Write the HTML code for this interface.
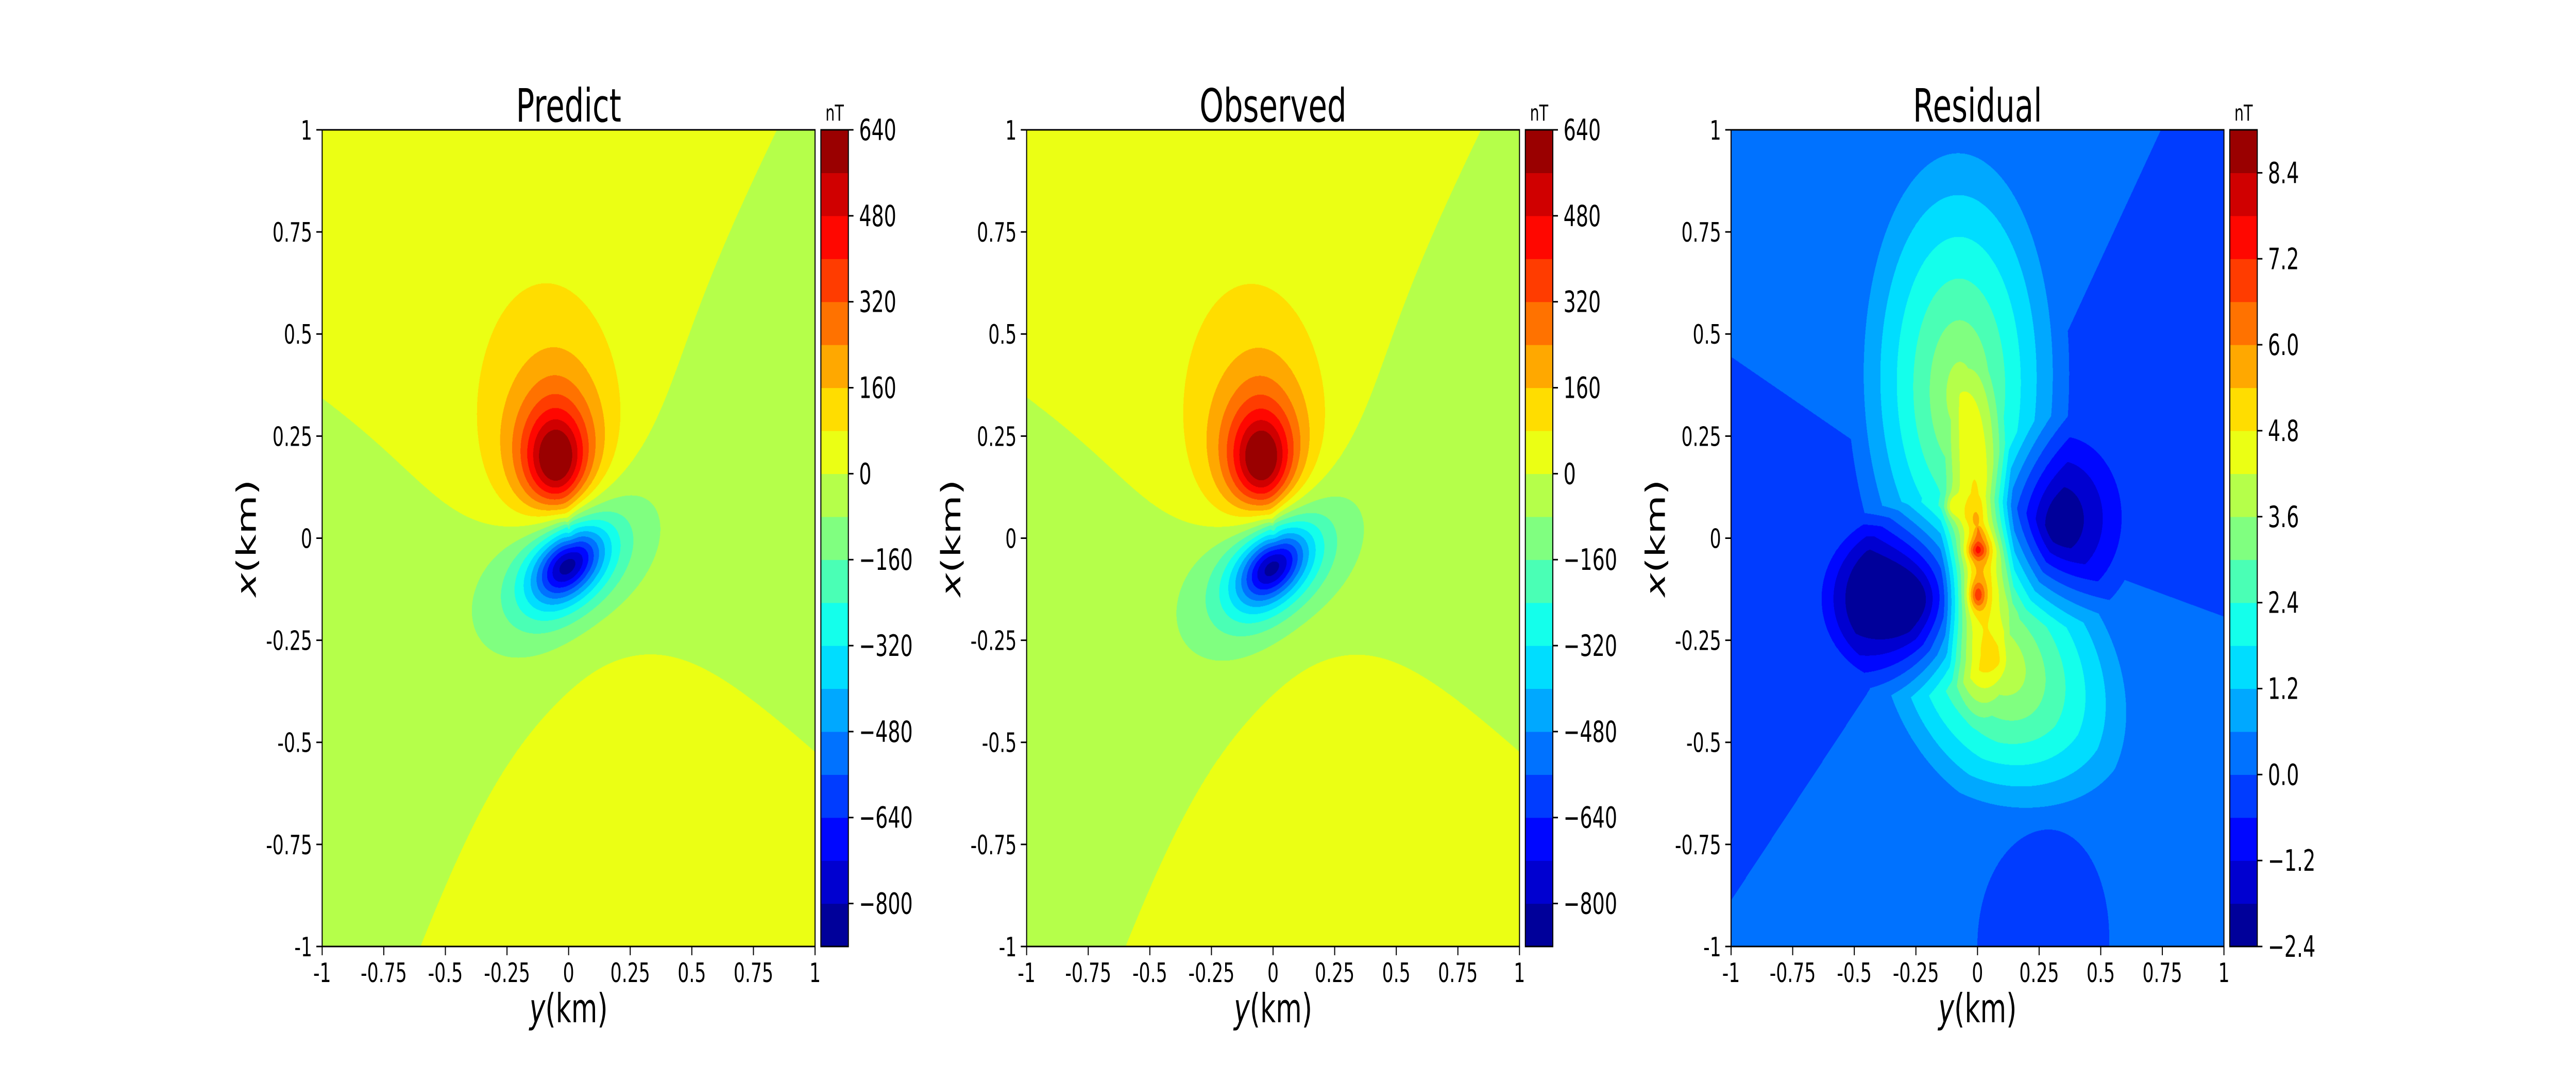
<!DOCTYPE html>
<html><head><meta charset="utf-8">
<style>
html,body{margin:0;padding:0;background:#fff;overflow:hidden;}
#wrap{position:absolute;left:0;top:0;width:7500px;height:2100px;transform-origin:0 0;background:#fff;font-family:"DejaVu Sans","Liberation Sans",sans-serif;}
canvas{position:absolute;}
svg{position:absolute;left:0;top:0;}
</style></head>
<body>
<div id="wrap">
<canvas id="c0" width="1435" height="1585" style="left:938px;top:252px;width:1435px;height:1585px"></canvas>
<canvas id="c1" width="1435" height="1585" style="left:2989px;top:252px;width:1435px;height:1585px"></canvas>
<canvas id="c2" width="1435" height="1585" style="left:5040px;top:252px;width:1435px;height:1585px"></canvas>
<svg id="ov" width="7500" height="2100" viewBox="0 0 7500 2100"></svg>
</div>
<script>
// ---- data ----
const panelTitles = ["Predict", "Observed", "Residual"];
const axisTicks = [-1, -0.75, -0.5, -0.25, 0, 0.25, 0.5, 0.75, 1];
const axisTickLabels = ["-1", "-0.75", "-0.5", "-0.25", "0", "0.25", "0.5", "0.75", "1"];
const fieldLevelMin = [-880, -880, -2.4];
const fieldLevelStep = [80, 80, 0.6];
const fieldBands = 19;
const predCbarTicks = [640, 480, 320, 160, 0, -160, -320, -480, -640, -800];
const predCbarLabels = ["640", "480", "320", "160", "0", "\u2212160", "\u2212320", "\u2212480", "\u2212640", "\u2212800"];
const resCbarTicks = [8.4, 7.2, 6.0, 4.8, 3.6, 2.4, 1.2, 0.0, -1.2, -2.4];
const resCbarLabels = ["8.4", "7.2", "6.0", "4.8", "3.6", "2.4", "1.2", "0.0", "\u22121.2", "\u22122.4"];
// anomaly sources (y = horizontal km, x = vertical km); pow 0 = cone profile
const predY   = [-0.05, -0.05, 0.0];
const predX   = [0.19, 0.36, -0.065];
const predAmp = [680, 60, -960];
const predSy  = [0.175, 0.2, 0.2];
const predSx  = [0.16, 0.2, 0.11];
const predRot = [0, 0, 20];
const predPow = [1.5, 1.5, 1.5];
const obsY   = [-0.045, -0.05, 0.0];
const obsX   = [0.19, 0.36, -0.07];
const obsAmp = [670, 60, -950];
const obsSy  = [0.173, 0.2, 0.2];
const obsSx  = [0.16, 0.2, 0.11];
const obsRot = [0, 0, 21];
const obsPow = [1.5, 1.5, 1.5];
const resY   = [-0.07, 0.08, 0.0, 0.0, 0.0, -0.1, -0.27, 0.33, 0.27];
const resX   = [0.35, -0.3, -0.02, -0.14, -0.03, 0.08, -0.15, 0.04, -1.0];
const resAmp = [3.8, 4.0, 3.2, 2.5, 1.8, 1.2, -5.0, -2.5, -0.9];
const resSy  = [0.45, 0.6, 0.15, 0.05, 0.06, 0.04, 0.4, 0.32, 0.48];
const resSx  = [0.65, 0.38, 0.45, 0.05, 0.03, 0.04, 0.24, 0.26, 0.54];
const resRot = [0, -20, 0, 0, 0, 0, 0, 0, 0];
const resPow = [0, 0, 0, 2, 2, 2, 0, 0, 0];
const panelBgAmp = [40, 40, 0.33];
const panelBgDipole = [0.19, 0.19, -0.22];
const panelBgOffset = [-0.09, -0.09, 0.078];
const bgAxisDeg = 105;

// ---- fit to viewport ----
const wrap = document.getElementById("wrap");
function fit(){
  const sx = window.innerWidth / 7500, sy = window.innerHeight / 2100;
  wrap.style.transform = "scale(" + (sx > 0 ? sx : 1) + "," + (sy > 0 ? sy : 1) + ")";
}
fit();
window.addEventListener("resize", fit);

// ---- layout ----
const panelLeft = [938, 2989, 5040];
const AX_T = 252, AX_W = 1435, AX_H = 1585, CB_GAP = 17, CB_W = 80;
const NS = "http://www.w3.org/2000/svg";
const ov = document.getElementById("ov");

function jet(t){
  const c = v => Math.max(0, Math.min(1, v));
  return [c(1.5 - Math.abs(4*t - 3)), c(1.5 - Math.abs(4*t - 2)), c(1.5 - Math.abs(4*t - 1))].map(v => Math.round(v*255));
}
function jetCss(t){ const c = jet(t); return "rgb(" + c.join(",") + ")"; }

function field(y, x, S){
  let v = 0;
  for (let i = 0; i < S.Y.length; i++){
    const a = S.R[i]*Math.PI/180;
    const dy = y - S.Y[i], dx = x - S.X[i];
    const u = dy*Math.cos(a) + dx*Math.sin(a);
    const w = -dy*Math.sin(a) + dx*Math.cos(a);
    const q2 = (u/S.SY[i])**2 + (w/S.SX[i])**2;
    if (S.P[i] === 0) v += S.A[i] * Math.max(0, 1 - Math.sqrt(q2));
    else v += S.A[i] / Math.pow(1 + q2, S.P[i]);
  }
  const phi = Math.atan2(x - 0.03, y) - bgAxisDeg*Math.PI/180;
  const cc = Math.cos(phi);
  v += S.bg * ((3*cc*cc - 1) / 2 + S.dip*cc + S.off);
  return v;
}

const sources = [
  {Y:predY, X:predX, A:predAmp, SY:predSy, SX:predSx, R:predRot, P:predPow},
  {Y:obsY, X:obsX, A:obsAmp, SY:obsSy, SX:obsSx, R:obsRot, P:obsPow},
  {Y:resY, X:resX, A:resAmp, SY:resSy, SX:resSx, R:resRot, P:resPow}
];
for (let p = 0; p < 3; p++){ sources[p].bg = panelBgAmp[p]; sources[p].dip = panelBgDipole[p]; sources[p].off = panelBgOffset[p]; }
const palette = [];
for (let i = 0; i < fieldBands; i++) palette.push(jet((i + 0.5)/fieldBands));

function xScale(p, v){ return panelLeft[p] + (v + 1)/2*AX_W; }
function yScale(v){ return AX_T + (1 - (v + 1)/2)*AX_H; }

for (let p = 0; p < 3; p++){
  const cv = document.getElementById("c" + p);
  const ctx = cv.getContext("2d");
  const img = ctx.createImageData(AX_W, AX_H);
  const S = sources[p];
  for (let j = 0; j < AX_H; j++){
    const x = 1 - 2*j/(AX_H - 1);
    for (let i = 0; i < AX_W; i++){
      const y = -1 + 2*i/(AX_W - 1);
      const v = field(y, x, S);
      let b = Math.floor((v - fieldLevelMin[p]) / fieldLevelStep[p]);
      b = Math.max(0, Math.min(fieldBands - 1, b));
      const c = palette[b], k = (j*AX_W + i)*4;
      img.data[k] = c[0]; img.data[k+1] = c[1]; img.data[k+2] = c[2]; img.data[k+3] = 255;
    }
  }
  ctx.putImageData(img, 0, 0);
}

function mk(tag, attrs, text){
  const e = document.createElementNS(NS, tag);
  for (const k in attrs) e.setAttribute(k, attrs[k]);
  if (text !== undefined) e.textContent = text;
  ov.appendChild(e);
  return e;
}

for (let p = 0; p < 3; p++){
  const L = panelLeft[p], R = L + AX_W, B = AX_T + AX_H, cx = L + AX_W/2;
  const frame = mk("rect", {x:L, y:AX_T, width:AX_W, height:AX_H, fill:"none", stroke:"#000", "stroke-width":3});
  
  
  const t = mk("text", {x:cx, y:236, "font-size":89, "text-anchor":"middle"}, panelTitles[p]);
  
  
  for (let i = 0; i < axisTicks.length; i++){
    const tx = xScale(p, axisTicks[i]);
    const xt = mk("line", {x1:tx, x2:tx, y1:B, y2:B + 17, stroke:"#000", "stroke-width":3});
    
    
    const xl = mk("text", {x:tx, y:1906, "font-size":52, "text-anchor":"middle"}, axisTickLabels[i]);
    
    
    const ty = yScale(axisTicks[i]);
    const yt = mk("line", {x1:L - 17, x2:L, y1:ty, y2:ty, stroke:"#000", "stroke-width":3});
    
    
    const yl = mk("text", {x:L - 29, y:ty + 19, "font-size":52, "text-anchor":"end"}, axisTickLabels[i]);
    
    
  }
  const xlab = mk("text", {x:cx, y:1984, "font-size":78, "text-anchor":"middle"});
  xlab.innerHTML = '<tspan font-style="italic">y</tspan>(km)';
  
  
  const ylab = mk("text", {x:0, y:0, "font-size":78, "text-anchor":"middle", transform:"translate(" + (L - 193) + "," + (AX_T + AX_H/2) + ") rotate(-90)"});
  ylab.innerHTML = '<tspan font-style="italic">x</tspan>(km)';
  
  

  // colorbar
  const cbL = R + CB_GAP, bandH = AX_H / fieldBands;
  for (let i = 0; i < fieldBands; i++){
    const r = mk("rect", {x:cbL, y:B - (i + 1)*bandH, width:CB_W, height:bandH + 0.6, fill:jetCss((i + 0.5)/fieldBands)});
    
    
  }
  const cbf = mk("rect", {x:cbL, y:AX_T, width:CB_W, height:AX_H, fill:"none", stroke:"#000", "stroke-width":3});
  
  
  const nt = mk("text", {x:cbL + CB_W/2, y:234, "font-size":43, "text-anchor":"middle"}, "nT");
  
  
  const ticks = p < 2 ? predCbarTicks : resCbarTicks;
  const labels = p < 2 ? predCbarLabels : resCbarLabels;
  const vmin = fieldLevelMin[p], vmax = vmin + fieldLevelStep[p]*fieldBands;
  for (let i = 0; i < ticks.length; i++){
    const ty = B - (ticks[i] - vmin)/(vmax - vmin)*AX_H;
    const cl = mk("line", {x1:cbL + CB_W, x2:cbL + CB_W + 15, y1:ty, y2:ty, stroke:"#000", "stroke-width":3});
    
    
    const ct = mk("text", {x:cbL + CB_W + 31, y:ty + 20, "font-size":57}, labels[i]);
    
    
  }
}
</script>
</body></html>
